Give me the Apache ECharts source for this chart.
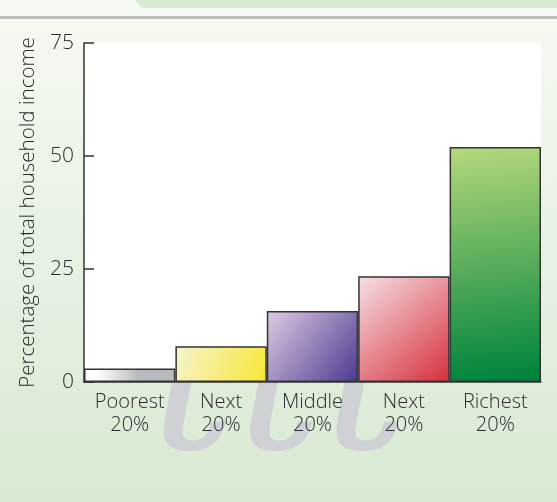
<!DOCTYPE html>
<html>
<head>
<meta charset="utf-8">
<script src="https://cdn.jsdelivr.net/npm/echarts@6/dist/echarts.min.js"></script>
<style>
  html, body { margin: 0; padding: 0; }
  #chart { width: 557px; height: 502px; }
</style>
</head>
<body>
<div id="chart"></div>
<script>
var categories = ['Poorest', 'Next', 'Middle', 'Next', 'Richest'];
var shareLabels = ['20%', '20%', '20%', '20%', '20%'];
var incomeShare = [3.0, 7.9, 15.7, 23.4, 52.0];
var yTicks = [0, 25, 50, 75];
// light -> dark stop for each bar's gradient
var barFills = [
  ['#ffffff', '#b9babd'],
  ['#f6f4cf', '#f8e634'],
  ['#ddcde3', '#4c3890'],
  ['#f7e1e6', '#d62f3c'],
  ['#b6d87c', '#00843d']
];

var font = 'Open Sans';
var weight = 300;
var textColor = '#2b2b2b';

function fill(i) {
  var c = barFills[i];
  if (i === 0) {
    return new echarts.graphic.LinearGradient(0, 0, 1, 0, [
      { offset: 0.15, color: c[0] }, { offset: 0.6, color: c[1] }, { offset: 1, color: c[1] }
    ]);
  }
  if (i === 4) {
    return new echarts.graphic.LinearGradient(0, 0, 0.3, 1, [
      { offset: 0, color: c[0] }, { offset: 1, color: c[1] }
    ]);
  }
  return new echarts.graphic.LinearGradient(0, 0, 1, 1, [
    { offset: 0, color: c[0] }, { offset: 1, color: c[1] }
  ]);
}

var barData = incomeShare.map(function (v, i) {
  return { value: v, itemStyle: { color: fill(i) } };
});

var option = {
  backgroundColor: new echarts.graphic.LinearGradient(0, 0, 0, 1, [
    { offset: 0, color: '#f6faf3' },
    { offset: 1, color: '#d8ead3' }
  ]),
  animation: false,
  graphic: [
    {
      type: 'rect', z: -5,
      shape: { x: 135, y: -20, width: 440, height: 28, r: 12 },
      style: { fill: '#d7ead2' }
    },
    {
      type: 'rect', z: -5,
      shape: { x: 0, y: 16, width: 557, height: 3 },
      style: { fill: '#bdbdbd' }
    },
    {
      // faint watermark behind the labels
      type: 'text', z: -5, x: 150, y: 500,
      style: {
        text: 'ttt', fill: '#d0d1d4', verticalAlign: 'bottom',
        font: 'italic 215px "DejaVu Serif"'
      }
    }
  ],
  grid: {
    left: 84, right: 16, top: 43, bottom: 120,
    show: true, backgroundColor: '#ffffff', borderWidth: 0
  },
  xAxis: {
    type: 'category',
    data: categories,
    axisLine: { show: true, lineStyle: { color: '#333', width: 1.5 } },
    axisTick: { show: false },
    axisLabel: {
      interval: 0, margin: 9,
      fontFamily: font, fontWeight: weight, fontSize: 20, lineHeight: 23, color: textColor,
      formatter: function (val, i) { return val + '\n' + shareLabels[i]; }
    }
  },
  yAxis: {
    type: 'value',
    min: yTicks[0], max: yTicks[yTicks.length - 1], interval: 25,
    name: 'Percentage of total household income',
    nameLocation: 'middle', nameGap: 45,
    nameTextStyle: { fontFamily: font, fontWeight: weight, fontSize: 20.5, color: textColor },
    axisLine: { show: true, lineStyle: { color: '#333', width: 1.5 } },
    axisTick: { show: true, inside: true, length: 10, lineStyle: { color: '#333', width: 1.5 } },
    splitLine: { show: false },
    axisLabel: { fontFamily: font, fontWeight: weight, fontSize: 21, color: textColor, margin: 10 }
  },
  series: [{
    type: 'bar',
    data: barData,
    barCategoryGap: '0%',
    itemStyle: { borderColor: '#333', borderWidth: 1.5 }
  }]
};

var myChart = echarts.init(document.getElementById('chart'));
myChart.setOption(option);
</script>
</body>
</html>
